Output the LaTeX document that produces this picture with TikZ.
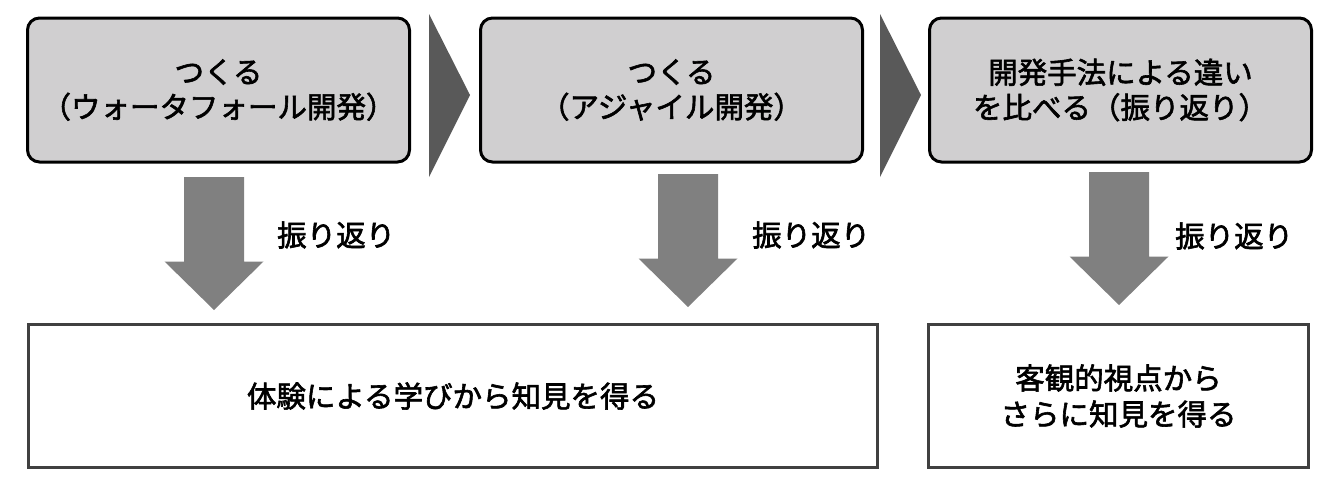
\documentclass[tikz,border=0pt]{standalone}
\usepackage{fontspec}
\setmainfont{Noto Sans CJK JP}[FakeBold=2]
\usetikzlibrary{positioning,calc}
\definecolor{boxgray}{RGB}{208,207,208}
\definecolor{chevgray}{RGB}{89,89,89}
\definecolor{arrgray}{RGB}{128,128,128}
\definecolor{edgegray}{RGB}{64,64,64}
\tikzset{
  stage/.style={draw=black,line width=3pt,fill=boxgray,rounded corners=12pt,minimum width=382pt,minimum height=144pt,align=center,font=\fontsize{29.5pt}{35pt}\selectfont},
  result/.style={draw=edgegray,line width=3pt,fill=white,minimum height=143pt,align=center,font=\fontsize{29.5pt}{36pt}\selectfont},
  chev/.style={fill=chevgray},
  down/.style={fill=arrgray},
  lab/.style={anchor=west,inner sep=0pt,font=\fontsize{29.5pt}{35pt}\selectfont}
}
\newcommand{\blockdown}[1]{%
  \fill[down] ($(#1)+(-30pt,0)$) -- ($(#1)+(30pt,0)$) -- ($(#1)+(30pt,-84.5pt)$)
    -- ($(#1)+(49.5pt,-84.5pt)$) -- ($(#1)+(0,-133pt)$) -- ($(#1)+(-49.5pt,-84.5pt)$)
    -- ($(#1)+(-30pt,-84.5pt)$) -- cycle;}

\begin{document}
\begin{tikzpicture}
  \useasboundingbox (0,0) rectangle (1338pt,-491pt);
  \node[stage] (wf) at (218.5pt,-90pt) {つくる\\（ウォータフォール開発）};
  \node[stage,right=68pt of wf] (ag) {つくる\\（アジャイル開発）};
  \node[stage,right=64pt of ag] (cmp) {開発手法による違い\\を比べる（振り返り）};
  \foreach \a/\b in {wf/ag,ag/cmp}
    \fill[chev] ($(\a.east)!.5!(\b.west)+(-16pt,76pt)$) -- ($(\a.east)!.5!(\b.west)+(25pt,-5pt)$)
      -- ($(\a.east)!.5!(\b.west)+(-16pt,-87pt)$) -- cycle;
  \node[result,minimum width=849pt] (learn) at (453pt,-396pt) {体験による学びから知見を得る};
  \node[result,minimum width=380pt] (more) at (1118.5pt,-396pt) {客観的視点から\\さらに知見を得る};
  \coordinate (d1) at (214pt,-177pt);
  \coordinate (d2) at (688pt,-174pt);
  \coordinate (d3) at (1119pt,-172pt);
  \blockdown{d1}
  \blockdown{d2}
  \blockdown{d3}
  \node[lab] (r1) at ($(d1)+(63pt,-58pt)$) {振り返り};
  \node[lab] (r2) at ($(d2)+(64pt,-61pt)$) {振り返り};
  \node[lab] (r3) at ($(d3)+(56pt,-64pt)$) {振り返り};
\end{tikzpicture}
\end{document}
